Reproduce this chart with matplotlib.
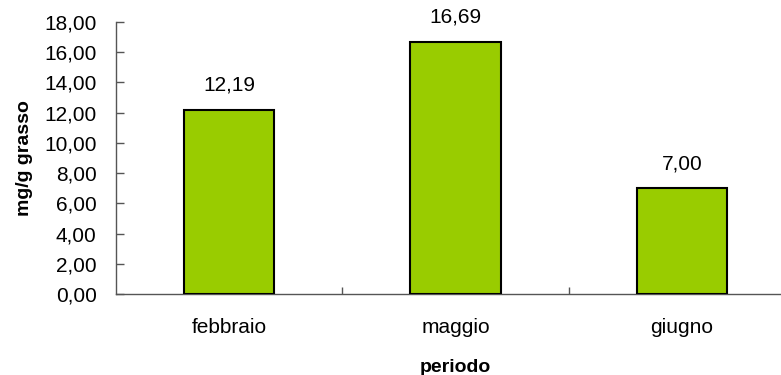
import matplotlib
matplotlib.use("Agg")
import matplotlib.pyplot as plt
from matplotlib.ticker import FuncFormatter, FixedLocator

categories = ["febbraio", "maggio", "giugno"]
values = [12.19, 16.69, 7.00]
yticks = [0, 2, 4, 6, 8, 10, 12, 14, 16, 18]

plt.rcParams['font.family'] = ['Liberation Sans', 'DejaVu Sans']

W, H = 781, 375
fig = plt.figure(figsize=(W / 100, H / 100), dpi=100)
left, right = 116, 795
bottom, top = 294, 22
ax = fig.add_axes([left / W, (H - bottom) / H, (right - left) / W, (bottom - top) / H])

x = list(range(len(categories)))
ax.bar(x, values, width=0.4, color="#99CC00", edgecolor="black", linewidth=1.5, zorder=3)

FS = 15

def fmt(v):
    return f"{v:.2f}".replace(".", ",")

for xi, v in zip(x, values):
    ax.annotate(fmt(v), (xi, v), xytext=(0, 15), textcoords="offset pixels",
                ha="center", va="bottom", fontsize=FS, color="black")

ax.set_xlim(-0.5, len(categories) - 0.5)
ax.set_ylim(0, 18)
ax.yaxis.set_major_locator(FixedLocator(yticks))
ax.yaxis.set_major_formatter(FuncFormatter(lambda v, p: fmt(v)))

ax.set_xticks(x)
ax.set_xticklabels(categories, fontsize=FS)
ax.xaxis.set_minor_locator(FixedLocator([0.5 + i for i in range(len(categories) - 1)]))
ax.tick_params(axis="x", which="major", length=0, pad=17)
ax.tick_params(axis="x", which="minor", direction="in", length=5, width=1, color="#555555")
ax.tick_params(axis="y", direction="in", length=6, width=1, color="#555555", labelsize=FS, pad=14)

for s in ["top", "right"]:
    ax.spines[s].set_visible(False)
for s in ["left", "bottom"]:
    ax.spines[s].set_color("#555555")
    ax.spines[s].set_linewidth(1)

ax.set_ylabel("mg/g grasso", fontsize=14, fontweight="bold", labelpad=8)
ax.set_xlabel("periodo", fontsize=14, fontweight="bold", labelpad=16)

fig.savefig("out.png", dpi=100)
